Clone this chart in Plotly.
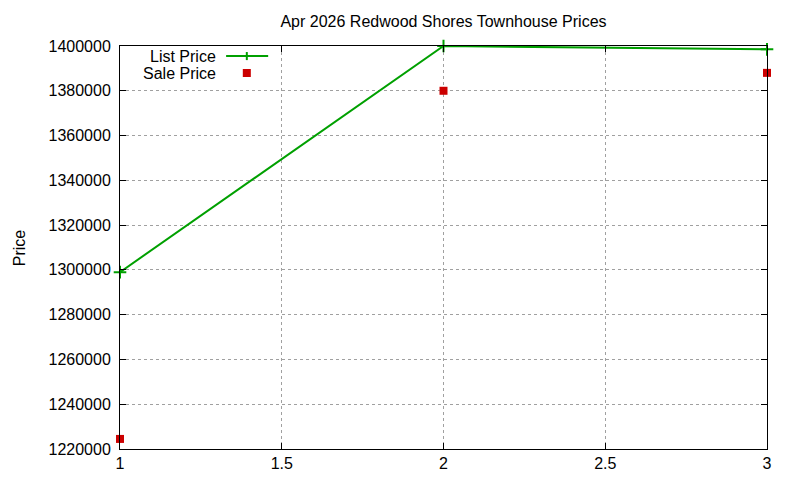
import plotly.graph_objects as go

# Redwood Shores townhouse prices, Apr 2026
periods = [1, 2, 3]
list_price = [1299000, 1400000, 1398500]
sale_price = [1224500, 1380000, 1388000]

y_ticks = list(range(1220000, 1400001, 20000))
x_ticks = [1, 1.5, 2, 2.5, 3]

green = '#00a000'
red = '#cc0000'
font_name = 'Liberation Sans, Arial, sans-serif'

fig = go.Figure()

fig.add_trace(go.Scatter(
    x=periods, y=list_price, mode='lines+markers', name='List Price',
    line=dict(color=green, width=2),
    marker=dict(symbol='cross-thin', size=9, line=dict(color=green, width=2)),
    cliponaxis=False, showlegend=False,
))

fig.add_trace(go.Scatter(
    x=periods, y=sale_price, mode='markers', name='Sale Price',
    marker=dict(symbol='square', size=8, color=red),
    cliponaxis=False, showlegend=False,
))

# gnuplot-style key: text right-aligned, sample to the right
key_font = dict(family=font_name, size=16, color='black')
fig.add_annotation(xref='paper', yref='paper', x=0.152, y=0.975, text='List Price',
                   showarrow=False, xanchor='right', yanchor='middle', font=key_font)
fig.add_annotation(xref='paper', yref='paper', x=0.152, y=0.933, text='Sale Price',
                   showarrow=False, xanchor='right', yanchor='middle', font=key_font)
fig.add_shape(type='line', xref='paper', yref='paper', x0=0.164, x1=0.229, y0=0.975, y1=0.975,
              line=dict(color=green, width=2))
fig.add_shape(type='line', xref='paper', yref='paper', x0=0.196, x1=0.196, y0=0.965, y1=0.985,
              line=dict(color=green, width=2))
fig.add_shape(type='rect', xref='paper', yref='paper', x0=0.1898, x1=0.2022, y0=0.923, y1=0.943,
              fillcolor=red, line=dict(width=0))

# y-axis label, placed by hand like gnuplot does
fig.add_annotation(xref='paper', yref='paper', x=-0.155, y=0.5, text='Price', textangle=-90,
                   showarrow=False, xanchor='center', yanchor='middle', font=key_font)

fig.update_layout(
    width=800, height=480,
    margin=dict(l=112, r=41, t=38, b=39),
    paper_bgcolor='white', plot_bgcolor='white',
    font=dict(family=font_name, size=16, color='black'),
    title=dict(text='Apr 2026 Redwood Shores Townhouse Prices', xref='paper', x=0.5,
               xanchor='center', y=0.973, yanchor='middle', font=dict(size=16)),
)

fig.update_xaxes(
    range=[1, 3], tickvals=x_ticks, ticktext=['1', '1.5', '2', '2.5', '3'],
    showline=True, linecolor='black', linewidth=1, mirror='allticks',
    ticks='inside', ticklen=6, tickcolor='black',
    showgrid=True, gridcolor='#a0a0a0', griddash='dot', gridwidth=1,
    zeroline=False,
)
fig.update_yaxes(
    range=[1220000, 1400000], tickvals=y_ticks, tickformat='d',
    ticklabelstandoff=5,
    showline=True, linecolor='black', linewidth=1, mirror='allticks',
    ticks='inside', ticklen=6, tickcolor='black',
    showgrid=True, gridcolor='#a0a0a0', griddash='dot', gridwidth=1,
    zeroline=False,
)

fig.write_html('out.html')
